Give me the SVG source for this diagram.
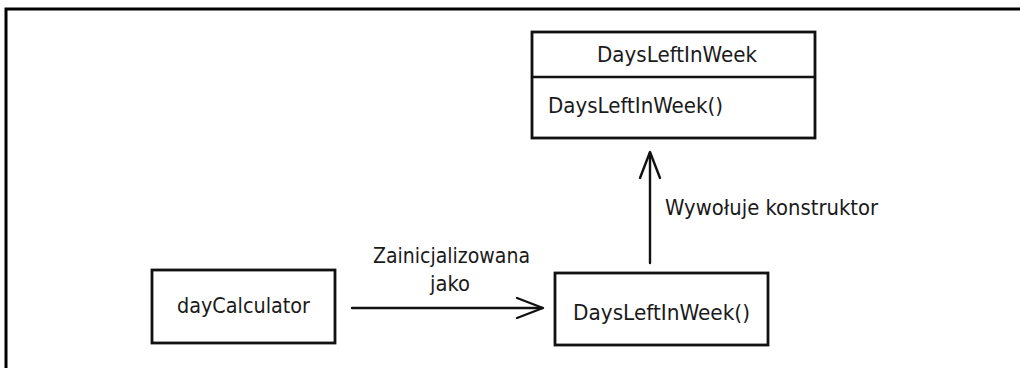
<svg xmlns="http://www.w3.org/2000/svg" width="1020" height="368" viewBox="0 0 1020 368">
<style>
.box{fill:#fff;stroke:#111;stroke-width:2.8}
.ln{fill:none;stroke:#111;stroke-width:2.4;stroke-linecap:round;stroke-linejoin:round}
text{font-family:"DejaVu Sans Condensed","Liberation Sans Narrow","Liberation Sans",sans-serif;font-size:22px;fill:#1a1a1a}
</style>
<rect width="1020" height="368" fill="#fff"/>
<path d="M6 368 V9 H1020" fill="none" stroke="#000" stroke-width="3"/>
<g id="DaysLeftInWeekClass">
<rect class="box" x="532" y="32" width="283" height="106"/>
<line class="ln" x1="532" y1="77" x2="815" y2="77"/>
<text x="677" y="62" text-anchor="middle" textLength="160" lengthAdjust="spacingAndGlyphs">DaysLeftInWeek</text>
<text x="548" y="113" textLength="175" lengthAdjust="spacingAndGlyphs">DaysLeftInWeek()</text>
</g>
<g id="dayCalculator">
<rect class="box" x="152" y="270" width="183" height="73"/>
<text x="177" y="313" textLength="133" lengthAdjust="spacingAndGlyphs">dayCalculator</text>
</g>
<g id="DaysLeftInWeekCall">
<rect class="box" x="555" y="273" width="213" height="72"/>
<text x="573" y="320" textLength="177" lengthAdjust="spacingAndGlyphs">DaysLeftInWeek()</text>
</g>
<g id="connectors">
<line class="ln" x1="352" y1="308" x2="542" y2="308"/>
<polyline class="ln" points="517,298 543,308 517,318"/>
<text x="373" y="263" textLength="157" lengthAdjust="spacingAndGlyphs">Zainicjalizowana</text>
<text x="430" y="291" textLength="40" lengthAdjust="spacingAndGlyphs">jako</text>
<line class="ln" x1="650" y1="263" x2="650" y2="153"/>
<polyline class="ln" points="640,178 650,152 660,178"/>
<text x="665" y="215" textLength="213" lengthAdjust="spacingAndGlyphs">Wywołuje konstruktor</text>
</g>
</svg>
